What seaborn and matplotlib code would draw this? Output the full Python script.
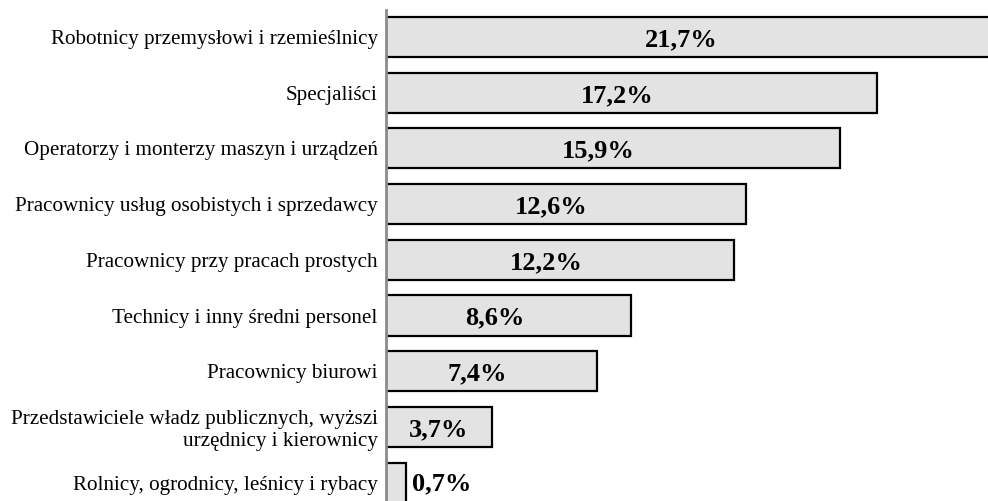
import matplotlib
matplotlib.use("Agg")
import matplotlib.pyplot as plt
import seaborn as sns
import pandas as pd

categories = [
    "Robotnicy przemysłowi i rzemieślnicy",
    "Specjaliści",
    "Operatorzy i monterzy maszyn i urządzeń",
    "Pracownicy usług osobistych i sprzedawcy",
    "Pracownicy przy pracach prostych",
    "Technicy i inny średni personel",
    "Pracownicy biurowi",
    "Przedstawiciele władz publicznych, wyższi\nurzędnicy i kierownicy",
    "Rolnicy, ogrodnicy, leśnicy i rybacy",
]
shares = [21.7, 17.2, 15.9, 12.6, 12.2, 8.6, 7.4, 3.7, 0.7]

df = pd.DataFrame({"kategoria": categories, "udzial": shares})

sns.set_style("white")
plt.rcParams["font.family"] = ["Liberation Serif", "DejaVu Serif"]
plt.rcParams["text.color"] = "black"
plt.rcParams["ytick.color"] = "black"
plt.rcParams["ytick.labelcolor"] = "black"

fig = plt.figure(figsize=(9.88, 5.01), dpi=100)
ax = fig.add_axes([386 / 988, 0, 1 - 386 / 988, 1 - 10 / 501])

sns.barplot(data=df, y="kategoria", x="udzial", orient="h", color="#e3e3e3",
            edgecolor="black", linewidth=1.6, width=0.72, saturation=1, ax=ax)

ax.set_xlim(0, 21.09)
ax.set_ylim(8.33, -0.485)
ax.set_xlabel("")
ax.set_ylabel("")
ax.set_xticks([])
ax.tick_params(axis="y", length=0, pad=6, labelsize=15.2, labelcolor="black")
for lbl in ax.get_yticklabels():
    lbl.set_horizontalalignment("right")
    lbl.set_multialignment("right")

for s in ["top", "right", "bottom"]:
    ax.spines[s].set_visible(False)
ax.spines["left"].set_color("#8c8c8c")
ax.spines["left"].set_linewidth(2)

# etykiety wartości
for i, v in enumerate(shares):
    txt = f"{v:.1f}".replace(".", ",") + "%"
    if v < 2:
        ax.text(v + 0.2, i + 0.02, txt, ha="left", va="center",
                fontsize=19, fontweight="bold", color="black")
    elif v < 5:
        ax.text(v / 2, i + 0.05, txt, ha="center", va="center",
                fontsize=19, fontweight="bold", color="black")
    else:
        ax.text(v / 2 - 0.5, i + 0.05, txt, ha="center", va="center",
                fontsize=19, fontweight="bold", color="black")

plt.savefig("out.png", dpi=100)
